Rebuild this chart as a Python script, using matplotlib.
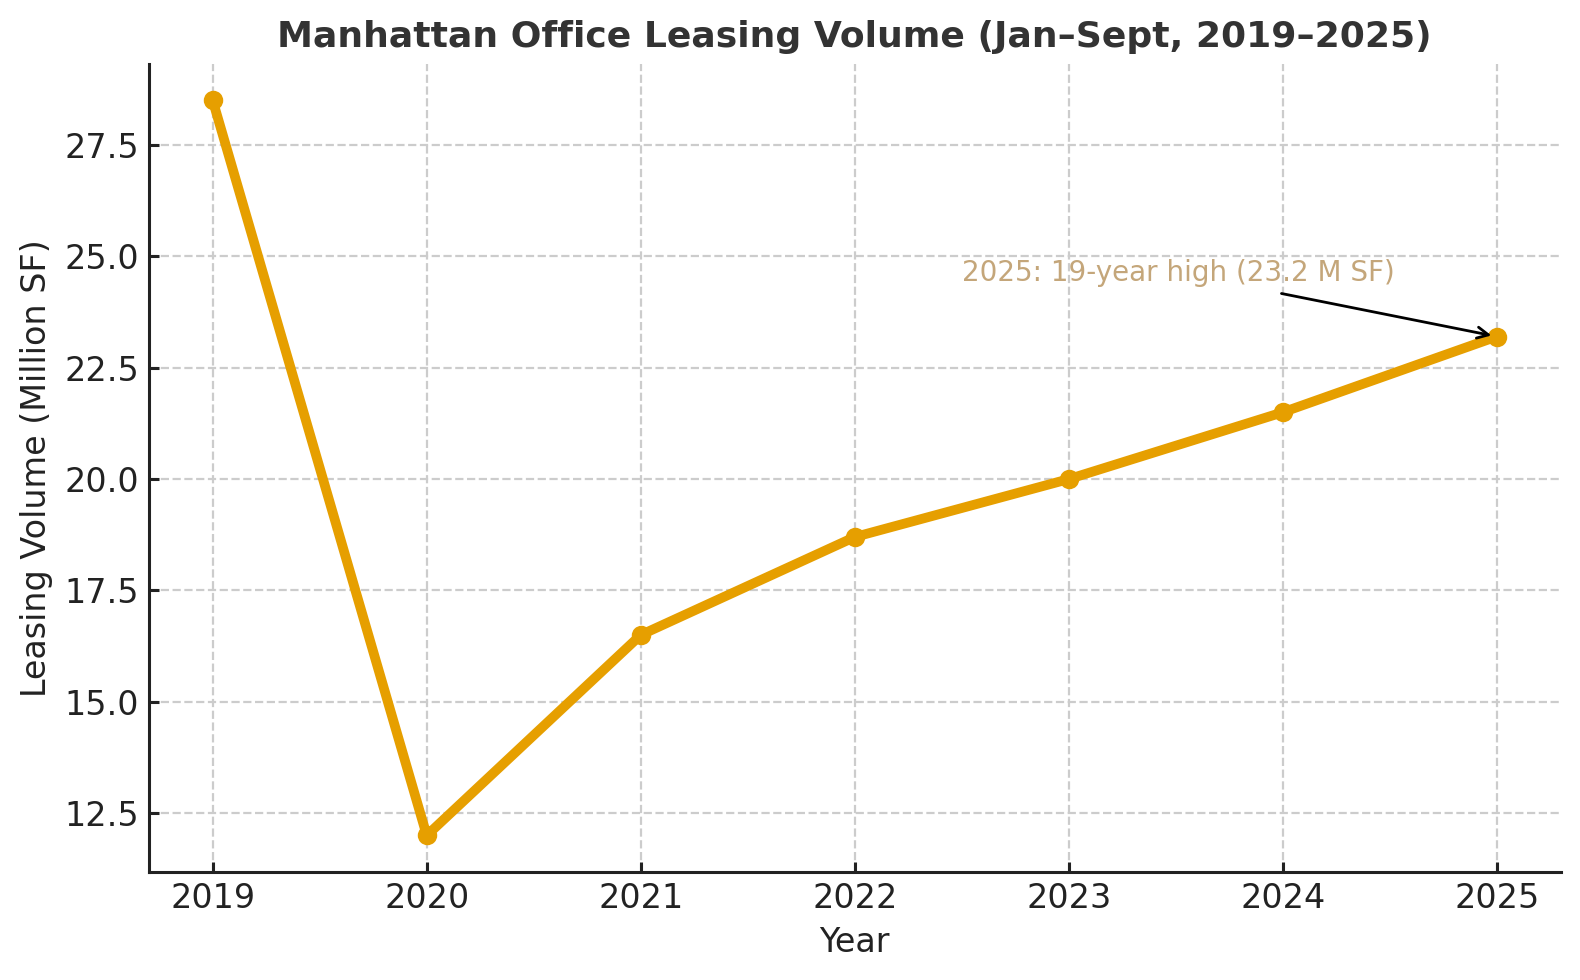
import matplotlib
matplotlib.use("Agg")
import matplotlib.pyplot as plt

years = [2019, 2020, 2021, 2022, 2023, 2024, 2025]
volume = [28.5, 12.0, 16.5, 18.7, 20.0, 21.5, 23.2]

fig, ax = plt.subplots(figsize=(7.9, 4.9), dpi=200)

ax.plot(years, volume, color="#E69F00", linewidth=3.5, marker="o", markersize=6)

ax.set_title("Manhattan Office Leasing Volume (Jan\u2013Sept, 2019\u20132025)",
             fontsize=13, fontweight="bold", color="#333333")
ax.set_xlabel("Year", fontsize=12, color="#222222")
ax.set_ylabel("Leasing Volume (Million SF)", fontsize=12, color="#222222")
ax.set_xticks(years)
ax.tick_params(labelsize=12, colors="#222222", direction="in", width=1.1)

ax.grid(True, linestyle="--", color="#cccccc", linewidth=0.8)
for s in ["top", "right"]:
    ax.spines[s].set_visible(False)
for s in ["left", "bottom"]:
    ax.spines[s].set_color("#222222")
    ax.spines[s].set_linewidth(1.1)

ax.annotate("2025: 19-year high (23.2 M SF)",
            xy=(years[-1], volume[-1]), xytext=(2022.5, 24.45),
            fontsize=10, color="#C4A67A",
            arrowprops=dict(arrowstyle="->", color="black", lw=1))

fig.subplots_adjust(left=0.094, right=0.988, top=0.935, bottom=0.11)
fig.savefig("out.png", dpi=200)
